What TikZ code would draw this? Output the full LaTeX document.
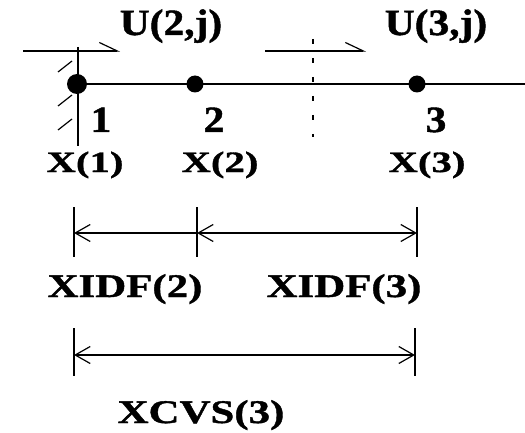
\documentclass[tikz,border=0pt]{standalone}
\usepackage{fontspec}
\newfontfamily\toplbl[FakeStretch=1.12,FakeBold=1.2]{Liberation Serif}
\newfontfamily\xlbl[FakeStretch=1.38,FakeBold=1.2]{Liberation Serif}
\newfontfamily\dimlbl[FakeStretch=1.3,FakeBold=1.2]{Liberation Serif}
\usetikzlibrary{arrows.meta}
\tikzset{
	barb/.tip={Straight Barb[length=15pt,width=17pt,line width=1.2pt]},
	harp/.tip={Straight Barb[harpoon,length=18pt,width=17pt,line width=1.2pt]},
	tlbl/.style={anchor=base,inner sep=0pt,font=\toplbl\bfseries\fontsize{37}{37}\selectfont},
	xlbl/.style={anchor=base,inner sep=0pt,font=\xlbl\bfseries\fontsize{29.5}{29.5}\selectfont},
	dlbl/.style={anchor=base,inner sep=0pt,font=\dimlbl\bfseries\fontsize{33}{33}\selectfont},
}
\begin{document}
	\begin{tikzpicture}[x=1pt,y=-1pt,line width=2pt]
		\useasboundingbox (0,0) rectangle (525,433);

		\coordinate (a1) at (23,51);
		\coordinate (a2) at (120,51);
		\coordinate (b1) at (265,51);
		\coordinate (b2) at (366,51);
		\draw[-harp] (a1) -- (a2);
		\draw[-harp] (b1) -- (b2);
		\node[tlbl] (u2) at (171,35) {U(2,j)};
		\node[tlbl] (u3) at (436,35) {U(3,j)};

		\coordinate (wtop) at (78,47);
		\coordinate (wbot) at (78,146);
		\draw (wtop) -- (wbot);
		\foreach \y in {72,106,130}{
			\draw[line width=1.2pt] (58,\y) -- ++(14,-11);
		}

		\coordinate (ctop) at (313,39);
		\coordinate (cbot) at (313,137);
		\draw[dash pattern=on 5pt off 14pt] (ctop) -- (cbot);

		\coordinate (p1) at (77,84);
		\coordinate (p2) at (195,84);
		\coordinate (p3) at (417,84);
		\coordinate (pend) at (525,84);
		\draw (p1) -- (pend);
		\fill (p1) circle[radius=10];
		\fill (p2) circle[radius=8.5];
		\fill (p3) circle[radius=8.5];

		\foreach \i/\x in {1/101,2/214,3/436}{
			\node[tlbl] (n\i) at (\x,132) {\i};
		}
		\foreach \i/\x in {1/85,2/220,3/427}{
			\node[xlbl] (x\i) at (\x,172) {X(\i)};
		}

		\foreach \n/\x in {1/74,2/197,3/417}{
			\coordinate (e\n) at (\x,233);
			\draw (\x,207) -- ++(0,50);
		}
		\draw[barb-] (e1) -- (e2);
		\draw[barb-barb] (e2) -- (e3);
		\node[dlbl] (xidf2) at (125,297) {XIDF(2)};
		\node[dlbl] (xidf3) at (344,297) {XIDF(3)};

		\foreach \n/\x in {1/74,2/415}{
			\coordinate (f\n) at (\x,355);
			\draw (\x,328) -- ++(0,48);
		}
		\draw[barb-barb] (f1) -- (f2);
		\node[dlbl] (xcvs3) at (201,423) {XCVS(3)};
	\end{tikzpicture}
\end{document}
